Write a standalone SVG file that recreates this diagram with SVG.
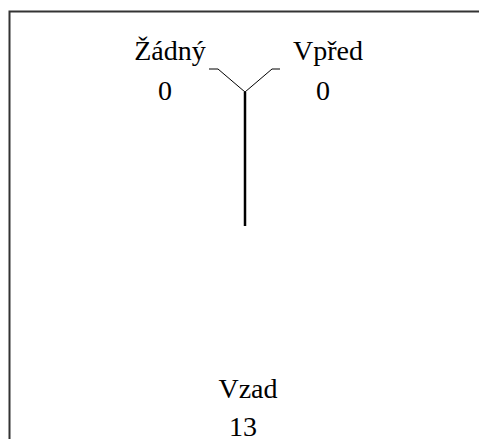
<svg xmlns="http://www.w3.org/2000/svg" width="479" height="439" viewBox="0 0 479 439">
  <style>
    .lbl { font-family: "Liberation Serif", "Times New Roman", serif; font-size: 28px; fill: #000; text-anchor: middle; }
    .frame { fill: none; stroke: #333; stroke-width: 2; }
    .branch { fill: none; stroke: #000; stroke-width: 1; }
    .stem { fill: none; stroke: #000; stroke-width: 2.5; }
  </style>
  <rect width="479" height="439" fill="#fff"/>
  <!-- outer frame (top and left edges) -->
  <path class="frame" d="M9.5,439 V11.5 H479"/>
  <g id="connectors">
    <path class="branch" d="M209,69 H218 L245,92 L272,69 H280"/>
    <path class="stem" d="M245,92 V226"/>
  </g>
  <g id="node-zadny">
    <text class="lbl" x="170" y="60">Žádný</text>
    <text class="lbl" x="165" y="100">0</text>
  </g>
  <g id="node-vpred">
    <text class="lbl" x="328" y="60">Vpřed</text>
    <text class="lbl" x="323" y="100">0</text>
  </g>
  <g id="node-vzad">
    <text class="lbl" x="248" y="398">Vzad</text>
    <text class="lbl" x="243" y="436">13</text>
  </g>
</svg>
